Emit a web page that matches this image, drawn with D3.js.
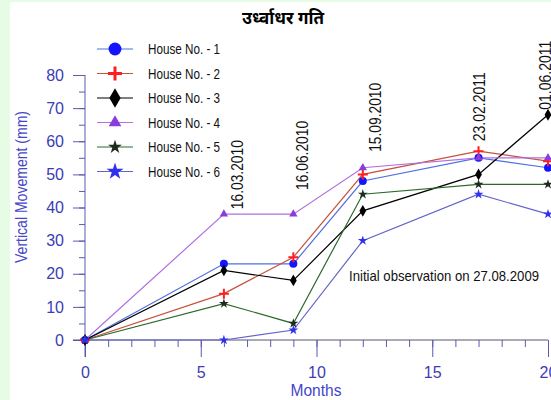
<!DOCTYPE html>
<html>
<head>
<meta charset="utf-8">
<script src="https://cdn.jsdelivr.net/npm/d3@7"></script>
<style>
  body { margin: 0; background: #e6fce4; }
  svg { display: block; }
  .narrow { font-family: "Liberation Sans", Arial, sans-serif; }
</style>
</head>
<body>
<div id="chart"></div>
<script>
// months since initial observation (27.08.2009)
let months = [0, 6, 9, 12, 17, 20];
let house1 = [0, 23, 23, 48, 55, 52];
let house2 = [0, 14, 25, 50, 57, 54];
let house3 = [0, 21, 18, 39, 50, 68];
let house4 = [0, 38, 38, 52, 55, 55];
let house5 = [0, 11, 5, 44, 47, 47];
let house6 = [0, 0, 3, 30, 44, 38];
let houseNames = ['House No. - 1', 'House No. - 2', 'House No. - 3', 'House No. - 4', 'House No. - 5', 'House No. - 6'];

// survey dates, placed along the month axis
let dateLabels = ['16.03.2010', '16.06.2010', '15.09.2010', '23.02.2011', '01.06.2011'];
let dateMonths = [6.57, 9.37, 12.53, 17.02, 19.87];
let dateAnchor = [39.5, 45.3, 56.8, 60, 69.5];

let xTicks = [0, 5, 10, 15, 20];
let yTicks = [0, 10, 20, 30, 40, 50, 60, 70, 80];

let width = 551, height = 400;
let axisCol = '#3c3cb4';

let series = [
  { name: houseNames[0], values: house1, line: '#4f6fe0', mark: '#1414ff', sym: d3.symbolCircle, sz: 50, lsz: 130 },
  { name: houseNames[1], values: house2, line: '#c8503c', mark: '#ff1e1e', sym: d3.symbolCross, sz: 0, lsz: 0, plus: true },
  { name: houseNames[2], values: house3, line: '#000000', mark: '#000000', sym: d3.symbolDiamond, sz: 40, lsz: 110 },
  { name: houseNames[3], values: house4, line: '#b070e0', mark: '#8a3cdc', sym: d3.symbolTriangle, sz: 30, lsz: 70 },
  { name: houseNames[4], values: house5, line: '#2c6a2c', mark: '#1e2a1e', sym: d3.symbolStar, sz: 30, lsz: 60 },
  { name: houseNames[5], values: house6, line: '#6464c8', mark: '#3030ee', sym: d3.symbolStar, sz: 30, lsz: 90 }
];

let x = d3.scaleLinear().domain([0, 20]).range([85, 548]);
let y = d3.scaleLinear().domain([0, 80]).range([340, 75]);

let svg = d3.select('#chart')
  .append('svg')
  .attr('width', width)
  .attr('height', height);

svg.append('rect')
  .attr('x', 10).attr('y', 2)
  .attr('width', width - 10).attr('height', height - 2)
  .attr('fill', '#ffffff');

// title
svg.append('text')
  .attr('x', 283).attr('y', 24)
  .attr('text-anchor', 'middle')
  .style('font-family', '"Noto Sans", "Lohit Devanagari", sans-serif')
  .style('font-size', '17px')
  .style('font-weight', 'bold')
  .text('उर्ध्वाधर गति');

// x axis: minor then major ticks
let xMinor = svg.append('g')
  .attr('transform', 'translate(0,' + y(0) + ')')
  .call(d3.axisBottom(x).tickValues(d3.range(0, 21)).tickSize(7).tickFormat(''));
let xMajor = svg.append('g')
  .attr('transform', 'translate(0,' + y(0) + ')')
  .call(d3.axisBottom(x).tickValues(xTicks).tickSize(17).tickPadding(10));

let yMinor = svg.append('g')
  .attr('transform', 'translate(' + x(0) + ',0)')
  .call(d3.axisLeft(y).tickValues(d3.range(0, 81, 5)).tickSize(6).tickFormat(''));
let yMajor = svg.append('g')
  .attr('transform', 'translate(' + x(0) + ',0)')
  .call(d3.axisLeft(y).tickValues(yTicks).tickSize(12).tickPadding(9));

[xMinor, xMajor, yMinor, yMajor].forEach(g => {
  g.select('.domain').remove();
  g.selectAll('line').attr('stroke', '#5a5ab4');
  g.selectAll('text')
    .attr('class', 'narrow')
    .style('font-size', '16px')
    .attr('fill', axisCol);
});

// axis lines
svg.append('line')
  .attr('x1', x(0) - 12).attr('x2', x(20))
  .attr('y1', y(0)).attr('y2', y(0))
  .attr('stroke', '#555577');
svg.append('line')
  .attr('x1', x(0)).attr('x2', x(0))
  .attr('y1', y(0) + 17).attr('y2', y(80))
  .attr('stroke', '#5a5ab4');

// axis titles
svg.append('text')
  .attr('class', 'narrow')
  .attr('transform', 'translate(27,' + 187 + ') rotate(-90)')
  .attr('text-anchor', 'middle')
  .attr('fill', '#4646c8')
  .style('font-size', '17px')
  .attr('textLength', 152)
  .attr('lengthAdjust', 'spacingAndGlyphs')
  .text('Vertical Movement (mm)');

svg.append('text')
  .attr('class', 'narrow')
  .attr('x', 316).attr('y', 396)
  .attr('text-anchor', 'middle')
  .attr('fill', '#4646c8')
  .style('font-size', '17px')
  .attr('textLength', 51)
  .attr('lengthAdjust', 'spacingAndGlyphs')
  .text('Months');

// lines
let line = d3.line()
  .x((d, i) => x(months[i]))
  .y(d => y(d));

series.forEach(s => {
  svg.append('path')
    .attr('d', line(s.values))
    .attr('fill', 'none')
    .attr('stroke', s.line)
    .attr('stroke-width', 1.2);
});

function drawMarker(g, s, cx, cy, big) {
  if (s.plus) {
    let h = big ? 7 : 5;
    g.append('path')
      .attr('d', 'M' + (cx - h) + ',' + cy + 'H' + (cx + h) + 'M' + cx + ',' + (cy - h) + 'V' + (cy + h))
      .attr('stroke', s.mark)
      .attr('stroke-width', big ? 3 : 2);
  } else {
    g.append('path')
      .attr('d', d3.symbol().type(s.sym).size(big ? s.lsz : s.sz)())
      .attr('transform', 'translate(' + cx + ',' + cy + ')')
      .attr('fill', s.mark);
  }
}

series.forEach(s => {
  s.values.forEach((v, i) => drawMarker(svg, s, x(months[i]), y(v), false));
});

// date annotations
svg.selectAll('.date')
  .data(dateLabels)
  .enter()
  .append('text')
  .attr('class', 'narrow date')
  .attr('transform', (d, i) => 'translate(' + (x(dateMonths[i]) + 6) + ',' + y(dateAnchor[i]) + ') rotate(-90)')
  .style('font-size', '16px')
  .attr('textLength', 69)
  .attr('lengthAdjust', 'spacingAndGlyphs')
  .attr('fill', '#111')
  .text(d => d);

svg.append('text')
  .attr('class', 'narrow')
  .attr('x', 349).attr('y', 281)
  .style('font-size', '15px')
  .attr('textLength', 190)
  .attr('lengthAdjust', 'spacingAndGlyphs')
  .attr('fill', '#111')
  .text('Initial observation on 27.08.2009');

// legend
let legend = svg.append('g');
series.forEach((s, i) => {
  let ry = 49 + i * 24.5;
  legend.append('line')
    .attr('x1', 97).attr('x2', 133)
    .attr('y1', ry).attr('y2', ry)
    .attr('stroke', s.line)
    .attr('stroke-width', 1.2);
  drawMarker(legend, s, 115, ry, true);
  legend.append('text')
    .attr('class', 'narrow')
    .attr('x', 148).attr('y', ry + 5)
    .style('font-size', '15px')
    .attr('textLength', 72)
    .attr('lengthAdjust', 'spacingAndGlyphs')
    .attr('fill', '#111')
    .text(s.name);
});
</script>
</body>
</html>
